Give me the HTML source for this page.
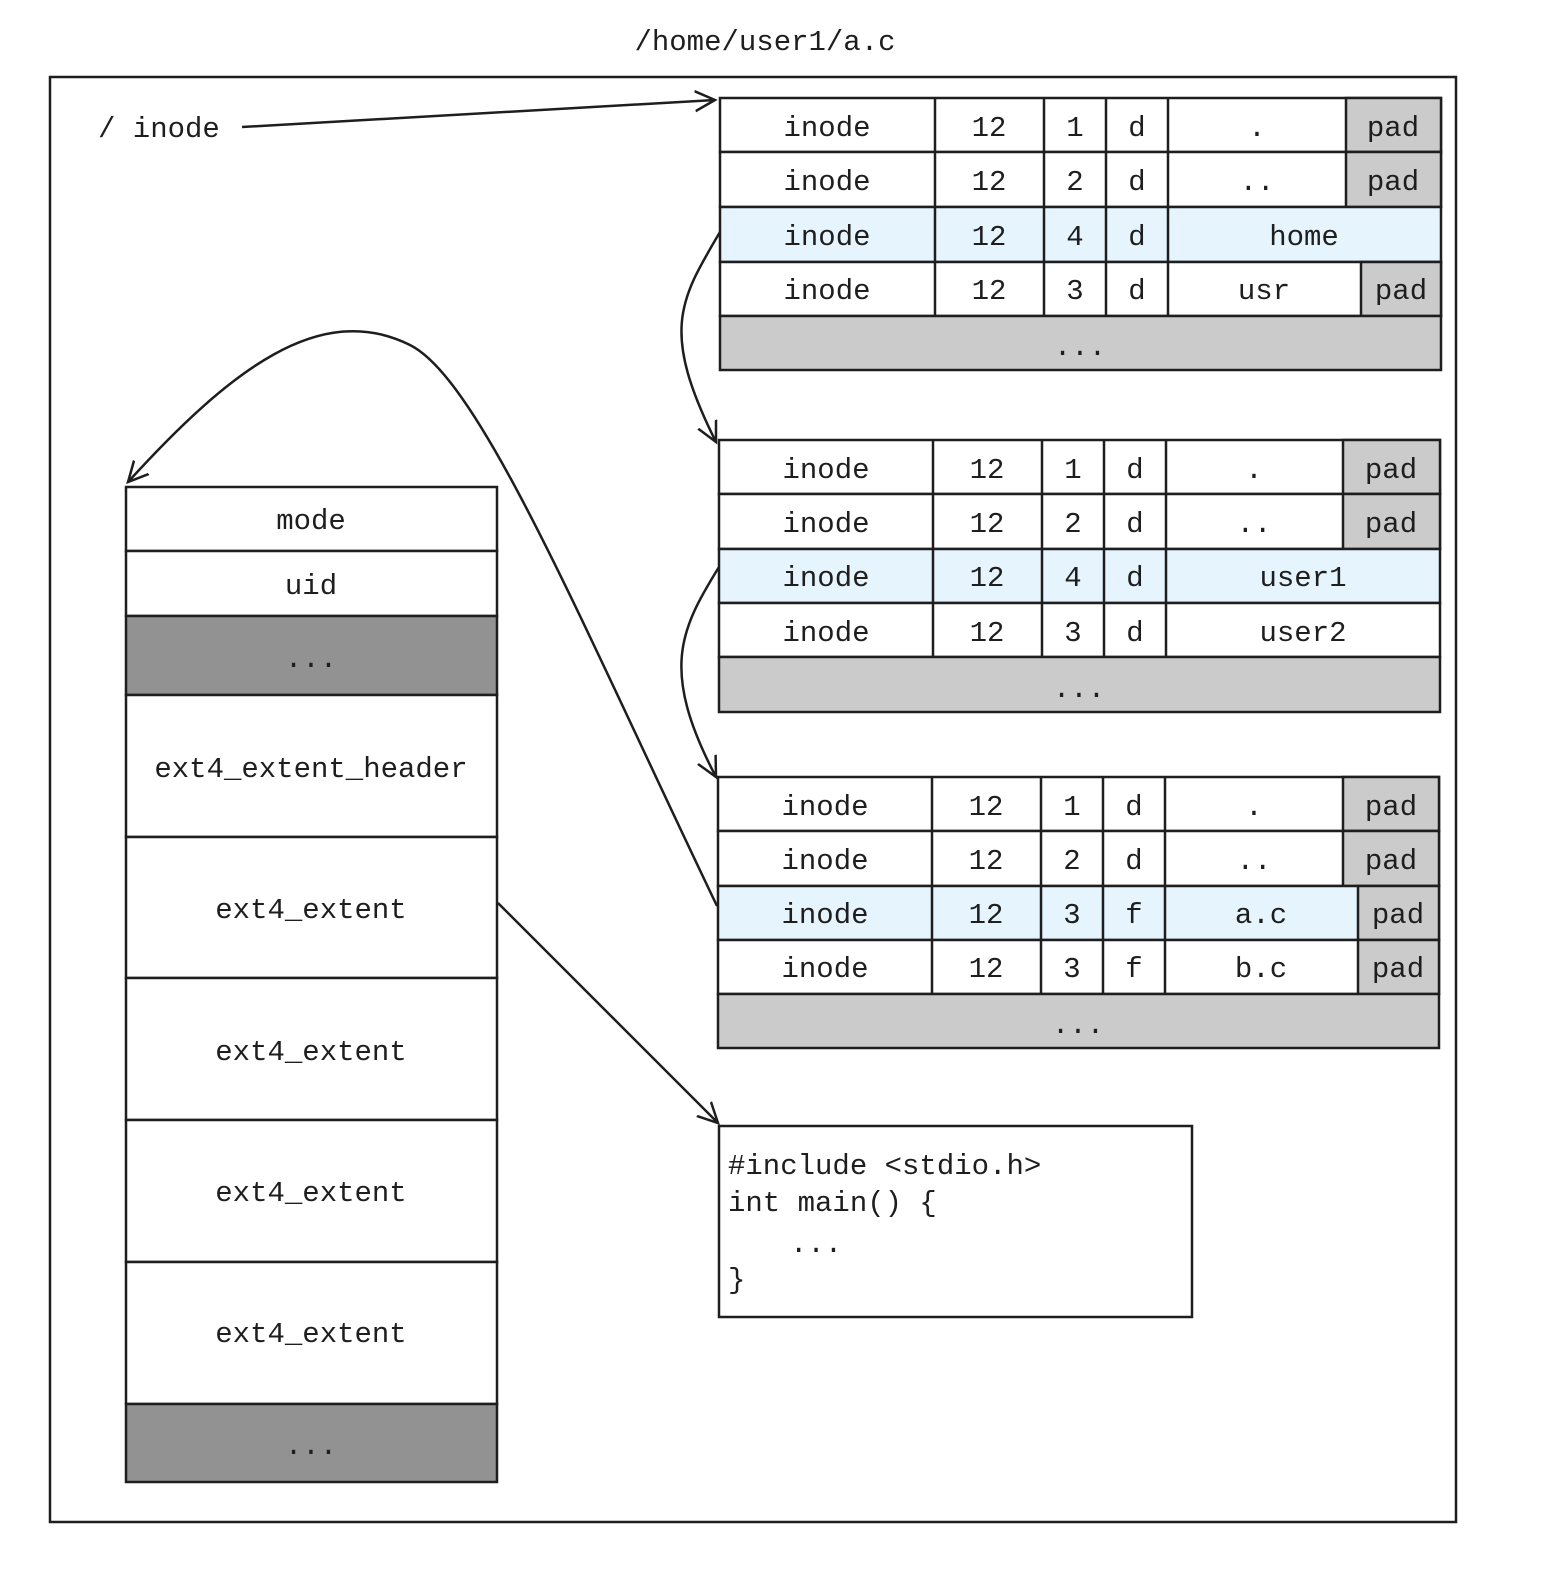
<!DOCTYPE html>
<html><head><meta charset="utf-8"><style>
html,body{margin:0;padding:0;background:#fff;}
body{width:1551px;height:1595px;position:relative;overflow:hidden;font-family:"Liberation Mono","DejaVu Sans Mono",monospace;}
svg{position:absolute;left:0;top:0;}
text{font-family:"Liberation Mono","DejaVu Sans Mono",monospace;font-size:29px;fill:#1e1e1e;}
</style></head><body>
<svg width="1551" height="1595" viewBox="0 0 1551 1595">
<defs>
<marker id="a" markerWidth="40" markerHeight="40" refX="20" refY="10" orient="auto" markerUnits="userSpaceOnUse" viewBox="0 0 40 20">
<path d="M0,0 L20,10 L0,20" fill="none" stroke="#1e1e1e" stroke-width="2.5"/>
</marker>
</defs>
<text x="765" y="50" text-anchor="middle">/home/user1/a.c</text>
<rect x="50" y="77" width="1406" height="1445" fill="none" stroke="#1e1e1e" stroke-width="2.5"/>
<text x="98" y="137">/ inode</text>

<g stroke="#1e1e1e" stroke-width="2.5">
<!-- table 1 -->
<rect x="720" y="98" width="721" height="54" fill="#fff"/>
<rect x="1346" y="98" width="95" height="54" fill="#cbcbcb"/>
<rect x="720" y="152" width="721" height="55" fill="#fff"/>
<rect x="1346" y="152" width="95" height="55" fill="#cbcbcb"/>
<rect x="720" y="207" width="721" height="55" fill="#e6f4fd"/>
<rect x="720" y="262" width="721" height="54" fill="#fff"/>
<rect x="1361" y="262" width="80" height="54" fill="#cbcbcb"/>
<rect x="720" y="316" width="721" height="54" fill="#cbcbcb"/>
<path d="M935,98V316M1044,98V316M1106,98V316M1168,98V316"/>
<!-- table 2 -->
<rect x="719" y="440" width="721" height="54" fill="#fff"/>
<rect x="1343" y="440" width="97" height="54" fill="#cbcbcb"/>
<rect x="719" y="494" width="721" height="55" fill="#fff"/>
<rect x="1343" y="494" width="97" height="55" fill="#cbcbcb"/>
<rect x="719" y="549" width="721" height="54" fill="#e6f4fd"/>
<rect x="719" y="603" width="721" height="54" fill="#fff"/>
<rect x="719" y="657" width="721" height="55" fill="#cbcbcb"/>
<path d="M933,440V657M1042,440V657M1104,440V657M1166,440V657"/>
<!-- table 3 -->
<rect x="718" y="777" width="721" height="54" fill="#fff"/>
<rect x="1343" y="777" width="96" height="54" fill="#cbcbcb"/>
<rect x="718" y="831" width="721" height="55" fill="#fff"/>
<rect x="1343" y="831" width="96" height="55" fill="#cbcbcb"/>
<rect x="718" y="886" width="721" height="54" fill="#e6f4fd"/>
<rect x="1358" y="886" width="81" height="54" fill="#cbcbcb"/>
<rect x="718" y="940" width="721" height="54" fill="#fff"/>
<rect x="1358" y="940" width="81" height="54" fill="#cbcbcb"/>
<rect x="718" y="994" width="721" height="54" fill="#cbcbcb"/>
<path d="M932,777V994M1041,777V994M1103,777V994M1165,777V994"/>
<!-- left stack -->
<rect x="126" y="487" width="371" height="64" fill="#fff"/>
<rect x="126" y="551" width="371" height="65" fill="#fff"/>
<rect x="126" y="616" width="371" height="79" fill="#929292"/>
<rect x="126" y="695" width="371" height="142" fill="#fff"/>
<rect x="126" y="837" width="371" height="141" fill="#fff"/>
<rect x="126" y="978" width="371" height="142" fill="#fff"/>
<rect x="126" y="1120" width="371" height="142" fill="#fff"/>
<rect x="126" y="1262" width="371" height="142" fill="#fff"/>
<rect x="126" y="1404" width="371" height="78" fill="#929292"/>
<!-- code box -->
<rect x="719" y="1126" width="473" height="191" fill="#fff"/>
</g>

<g text-anchor="middle">
<!-- t1 -->
<text x="827" y="136">inode</text><text x="989" y="136">12</text><text x="1075" y="136">1</text><text x="1137" y="136">d</text><text x="1257" y="136">.</text><text x="1393" y="136">pad</text>
<text x="827" y="190">inode</text><text x="989" y="190">12</text><text x="1075" y="190">2</text><text x="1137" y="190">d</text><text x="1257" y="190">..</text><text x="1393" y="190">pad</text>
<text x="827" y="245">inode</text><text x="989" y="245">12</text><text x="1075" y="245">4</text><text x="1137" y="245">d</text><text x="1304" y="245">home</text>
<text x="827" y="299">inode</text><text x="989" y="299">12</text><text x="1075" y="299">3</text><text x="1137" y="299">d</text><text x="1264" y="299">usr</text><text x="1401" y="299">pad</text>
<text x="1080" y="355">...</text>
<!-- t2 -->
<text x="826" y="478">inode</text><text x="987" y="478">12</text><text x="1073" y="478">1</text><text x="1135" y="478">d</text><text x="1254" y="478">.</text><text x="1391" y="478">pad</text>
<text x="826" y="532">inode</text><text x="987" y="532">12</text><text x="1073" y="532">2</text><text x="1135" y="532">d</text><text x="1254" y="532">..</text><text x="1391" y="532">pad</text>
<text x="826" y="586">inode</text><text x="987" y="586">12</text><text x="1073" y="586">4</text><text x="1135" y="586">d</text><text x="1303" y="586">user1</text>
<text x="826" y="641">inode</text><text x="987" y="641">12</text><text x="1073" y="641">3</text><text x="1135" y="641">d</text><text x="1303" y="641">user2</text>
<text x="1079" y="697">...</text>
<!-- t3 -->
<text x="825" y="815">inode</text><text x="986" y="815">12</text><text x="1072" y="815">1</text><text x="1134" y="815">d</text><text x="1254" y="815">.</text><text x="1391" y="815">pad</text>
<text x="825" y="869">inode</text><text x="986" y="869">12</text><text x="1072" y="869">2</text><text x="1134" y="869">d</text><text x="1254" y="869">..</text><text x="1391" y="869">pad</text>
<text x="825" y="923">inode</text><text x="986" y="923">12</text><text x="1072" y="923">3</text><text x="1134" y="923">f</text><text x="1261" y="923">a.c</text><text x="1398" y="923">pad</text>
<text x="825" y="977">inode</text><text x="986" y="977">12</text><text x="1072" y="977">3</text><text x="1134" y="977">f</text><text x="1261" y="977">b.c</text><text x="1398" y="977">pad</text>
<text x="1078" y="1033">...</text>
<!-- stack -->
<text x="311" y="529">mode</text>
<text x="311" y="594">uid</text>
<text x="311" y="667">...</text>
<text x="311" y="777">ext4_extent_header</text>
<text x="311" y="918">ext4_extent</text>
<text x="311" y="1060">ext4_extent</text>
<text x="311" y="1201">ext4_extent</text>
<text x="311" y="1342">ext4_extent</text>
<text x="311" y="1454">...</text>
</g>
<text x="728" y="1174">#include &lt;stdio.h&gt;</text>
<text x="728" y="1211">int main() {</text>
<text x="790" y="1252">...</text>
<text x="728" y="1288">}</text>

<g fill="none" stroke="#1e1e1e" stroke-width="2.5" marker-end="url(#a)">
<path d="M242,127 L715,100"/>
<path d="M720,232 C680,300 660,330 716,442"/>
<path d="M719,567 C680,630 660,670 716,777"/>
<path d="M717,906 C580,620 480,380 410,345 C320,300 230,370 128,482"/>
<path d="M498,903 L718,1123"/>
</g>
</svg>
</body></html>
